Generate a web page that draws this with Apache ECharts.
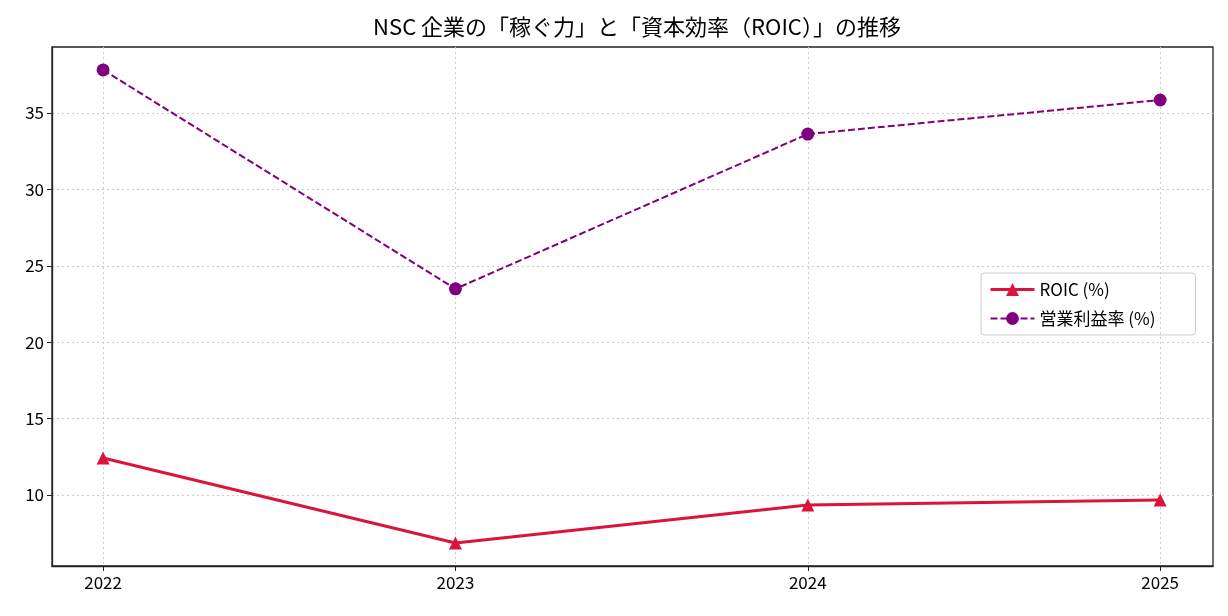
<!DOCTYPE html>
<html>
<head>
<meta charset="utf-8">
<script src="https://cdn.jsdelivr.net/npm/echarts@6/dist/echarts.min.js"></script>
<style>
  html, body { margin: 0; padding: 0; background: #fff; }
  #main { width: 1228px; height: 616px; }
</style>
</head>
<body>
<div id="main"></div>
<script>
// data
var years = [2022, 2023, 2024, 2025];
var roic = [12.42, 6.85, 9.34, 9.67];
var opMargin = [37.82, 23.49, 33.62, 35.85];
var yTicks = [10, 15, 20, 25, 30, 35];

window.onload = function () {
  var myChart = echarts.init(document.getElementById('main'));
  var font = '"Noto Sans CJK JP", "DejaVu Sans", sans-serif';
  var pairs = function (vals) {
    return years.map(function (y, i) { return [y, vals[i]]; });
  };
  var option = {
    animation: false,
    title: {
      text: 'NSC 企業の「稼ぐ力」と「資本効率（ROIC）」の推移',
      left: 632, top: 11, textAlign: 'center',
      textStyle: { fontFamily: font, fontSize: 22, fontWeight: 'normal', color: '#000' }
    },
    legend: {
      orient: 'vertical',
      left: 981, top: 273,
      padding: [8, 40, 8, 8],
      itemGap: 12,
      itemWidth: 44, itemHeight: 16,
      borderColor: '#cccccc', borderWidth: 1, borderRadius: 3,
      textStyle: { fontFamily: font, fontSize: 17, color: '#000' },
      data: [
        { name: 'ROIC (%)', lineStyle: { width: 3 } },
        { name: '営業利益率 (%)', lineStyle: { width: 2 } }
      ]
    },
    grid: {
      left: 52, right: 15, top: 47, bottom: 50,
      show: true, borderColor: '#222', borderWidth: 1.3
    },
    xAxis: {
      type: 'value',
      min: 2021.855, max: 2025.15,
      axisLine: { show: true, lineStyle: { color: '#222', width: 1.3 } },
      axisTick: { show: true, length: 5, lineStyle: { color: '#222' }, customValues: years },
      axisLabel: {
        customValues: years, fontFamily: font, fontSize: 17, color: '#000', margin: 8,
        formatter: function (v) { return String(v); }
      },
      splitLine: { show: true, lineStyle: { color: '#cccccc', type: [2, 3] } }
    },
    yAxis: {
      type: 'value',
      min: 5.35, max: 39.32,
      axisLine: { show: true, lineStyle: { color: '#222', width: 1.3 } },
      axisTick: { show: true, length: 5, lineStyle: { color: '#222' }, customValues: yTicks },
      axisLabel: { customValues: yTicks, fontFamily: font, fontSize: 17, color: '#000', margin: 8 },
      splitLine: { show: true, lineStyle: { color: '#cccccc', type: [2, 3] } }
    },
    series: [
      {
        name: 'ROIC (%)',
        type: 'line',
        data: pairs(roic),
        symbol: 'triangle', symbolSize: 13,
        itemStyle: { color: '#dc143c' },
        lineStyle: { color: '#dc143c', width: 3 }
      },
      {
        name: '営業利益率 (%)',
        type: 'line',
        data: pairs(opMargin),
        symbol: 'circle', symbolSize: 13,
        itemStyle: { color: '#800080' },
        lineStyle: { color: '#800080', width: 2, type: [7, 3] }
      }
    ]
  };
  myChart.setOption(option);
};
</script>
</body>
</html>
